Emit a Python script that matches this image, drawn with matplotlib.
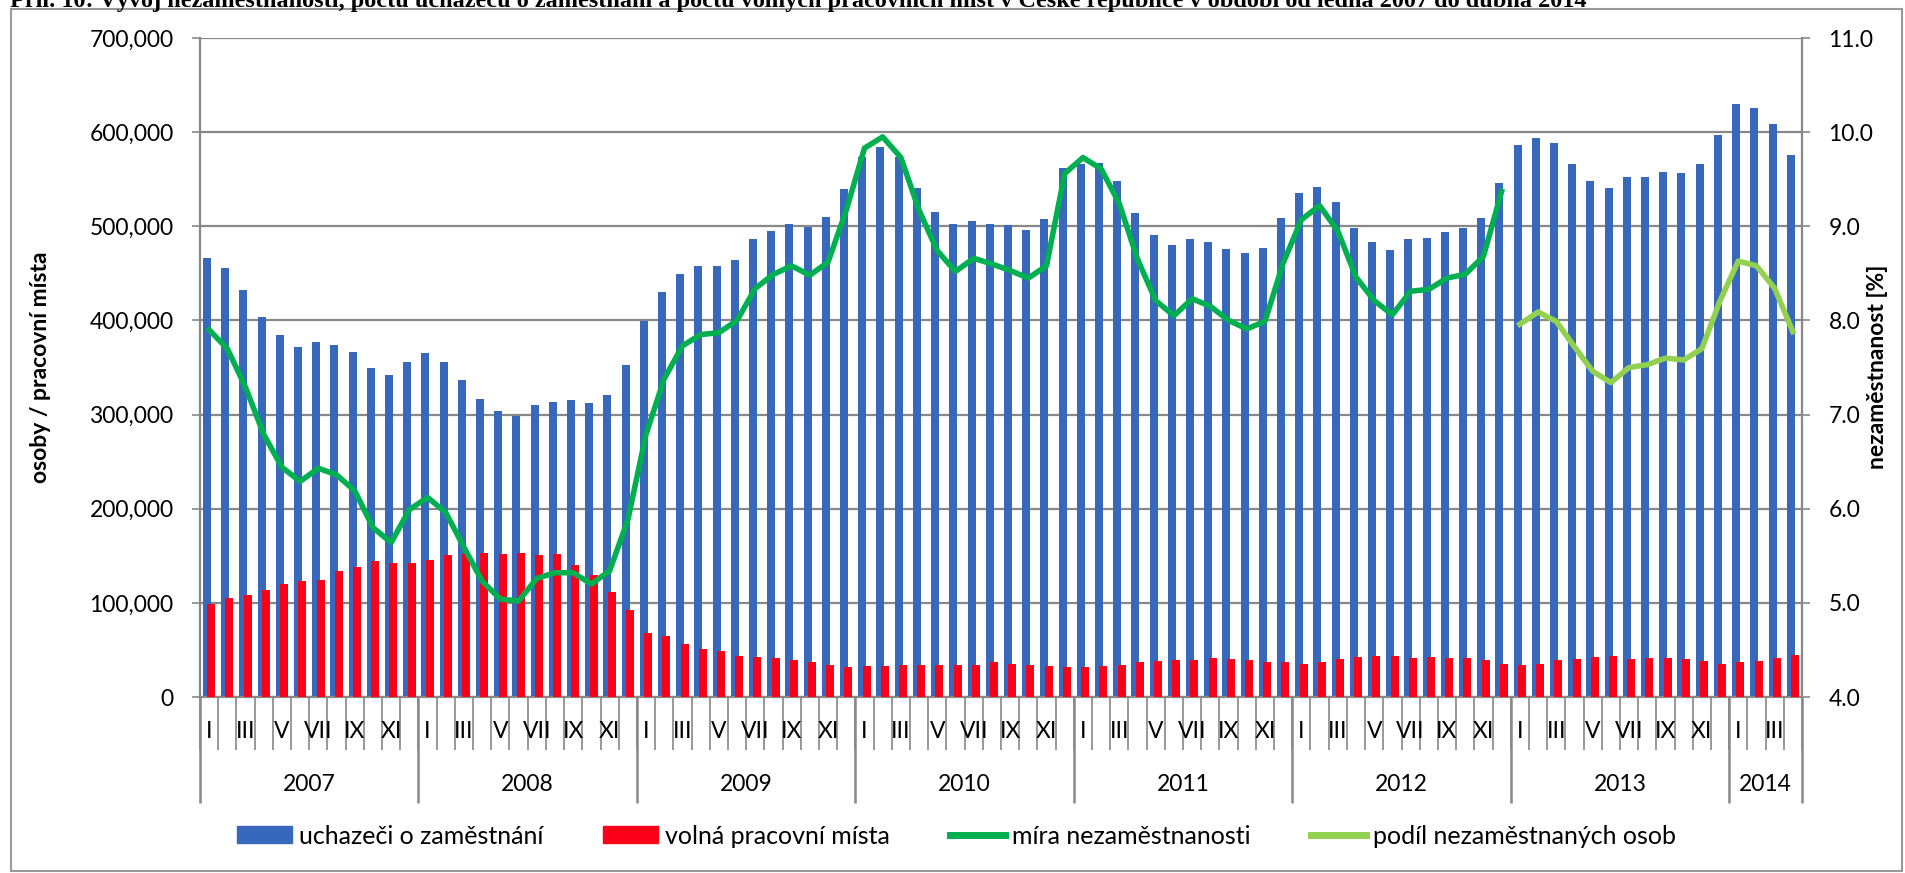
import numpy as np
import matplotlib.pyplot as plt
from matplotlib.patches import Rectangle, Patch
from matplotlib.lines import Line2D
from matplotlib.ticker import FuncFormatter, MultipleLocator

plt.rcParams['font.family'] = ['Lato', 'DejaVu Sans']

# values, Jan 2007 .. Apr 2014
years = ['2007', '2008', '2009', '2010', '2011', '2012', '2013', '2014']
months = ['I', 'II', 'III', 'IV', 'V', 'VI', 'VII', 'VIII', 'IX', 'X', 'XI', 'XII']

# uchazeci o zamestnani (thousands)
uchazeci = [466, 456, 432, 404, 384, 372, 377, 374, 366, 350, 342, 356,
            365, 356, 337, 317, 304, 299, 310, 313, 315, 312, 321, 353,
            399, 430, 449, 458, 458, 464, 486, 495, 502, 499, 510, 540,
            574, 584, 574, 541, 515, 502, 506, 502, 501, 496, 508, 562,
            566, 567, 548, 514, 491, 480, 486, 483, 476, 472, 477, 509,
            535, 542, 526, 498, 483, 475, 486, 488, 494, 498, 509, 546,
            586, 594, 588, 566, 548, 541, 552, 552, 558, 557, 566, 597,
            630, 626, 609, 576]

# volna pracovni mista (thousands)
volna = [98.5, 105, 108, 114, 120, 123.5, 124, 134, 138, 144, 142, 142,
         146, 151, 152, 152.5, 152, 152.5, 151, 152, 140, 130, 112, 92,
         68.5, 65, 56, 51, 49, 44, 42, 41.8, 39.5, 36.8, 33.6, 31.8,
         32.7, 33.1, 33.6, 33.6, 33.6, 33.6, 34, 37.2, 35.4, 34, 33.1, 31.8,
         31.8, 32.7, 34.5, 36.8, 38.1, 39, 39.5, 41.3, 40.4, 39, 37.2, 36.8,
         35, 37.2, 40.4, 42.2, 44, 43.1, 41.8, 42.7, 41.8, 40.9, 39.5, 35.4,
         34, 35.4, 39.5, 40.4, 42.7, 44, 40.4, 40.9, 41.8, 39.9, 38.1, 35.4,
         36.8, 38.6, 41.3, 44.9]

# mira nezamestnanosti [%], 2007-2012
mira = [7.90, 7.70, 7.29, 6.79, 6.44, 6.29, 6.43, 6.36, 6.19, 5.80, 5.64, 5.99,
        6.12, 5.96, 5.59, 5.23, 5.04, 5.02, 5.26, 5.32, 5.32, 5.20, 5.34, 5.88,
        6.79, 7.38, 7.73, 7.85, 7.87, 8.00, 8.34, 8.49, 8.58, 8.48, 8.62, 9.17,
        9.83, 9.95, 9.73, 9.17, 8.74, 8.52, 8.66, 8.60, 8.53, 8.45, 8.58, 9.56,
        9.73, 9.61, 9.24, 8.65, 8.21, 8.05, 8.23, 8.15, 8.00, 7.91, 7.99, 8.61,
        9.07, 9.22, 8.95, 8.46, 8.21, 8.06, 8.31, 8.33, 8.45, 8.49, 8.68, 9.37]

# podil nezamestnanych osob [%], 2013-2014
podil = [7.96, 8.09, 7.99, 7.72, 7.46, 7.34, 7.50, 7.53, 7.60, 7.58, 7.70, 8.21,
         8.63, 8.58, 8.34, 7.88]

n = len(uchazeci)
x = np.arange(n)
x_mira = np.arange(len(mira))
x_podil = np.arange(n - len(podil), n)

grey = '#888888'
blue = '#3868BC'
red = '#FA0019'
dgreen = '#00B050'
lgreen = '#92D050'

fig = plt.figure(figsize=(19.05, 8.73), dpi=100)
ax = fig.add_axes([200/1905, 1 - 697/873, 1602/1905, 659/873])
ax2 = ax.twinx()

ax.bar(x - 0.12, np.array(uchazeci) * 1000, width=0.44, color=blue, zorder=2)
ax.bar(x + 0.12, np.array(volna) * 1000, width=0.44, color=red, zorder=3)

ax2.plot(x_mira, mira, color=dgreen, lw=4, solid_joinstyle='round', zorder=4)
ax2.plot(x_podil, podil, color=lgreen, lw=4, solid_joinstyle='round', zorder=4)

ax.set_xlim(-0.5, n - 0.5)
ax.set_ylim(0, 700000)
ax2.set_ylim(4, 11)
ax.yaxis.set_major_locator(MultipleLocator(100000))
ax2.yaxis.set_major_locator(MultipleLocator(1))
ax.yaxis.set_major_formatter(FuncFormatter(lambda v, p: '{:,.0f}'.format(v)))
ax2.yaxis.set_major_formatter(FuncFormatter(lambda v, p: '{:.1f}'.format(v)))

ax.grid(axis='y', color=grey, lw=1.6, zorder=0)
ax.set_axisbelow(True)

for a in (ax, ax2):
    for s in a.spines.values():
        s.set_color(grey)
        s.set_linewidth(1.6)
    a.spines['top'].set_visible(False)
ax2.spines['left'].set_visible(False)
ax2.spines['bottom'].set_visible(False)
ax.spines['right'].set_visible(False)

ax.tick_params(axis='y', length=6, width=1.2, color=grey, pad=13, labelsize=16.5)
ax2.tick_params(axis='y', length=6, width=1.2, color=grey, pad=13, labelsize=16.5)

# month boundary ticks
ax.set_xticks(np.arange(-0.5, n, 1))
ax.tick_params(axis='x', length=38, width=1.2, color=grey, labelbottom=False)

# year boundaries reach lower
ybounds = [-0.5] + [12 * k - 0.5 for k in range(1, len(years))] + [n - 0.5]
ax.vlines(ybounds, -0.161, 0, transform=ax.get_xaxis_transform(),
          color=grey, lw=1.8, clip_on=False)

tr = ax.get_xaxis_transform()
for i in range(0, n, 2):
    ax.text(i, -0.053, months[i % 12], transform=tr, ha='center', va='center',
            fontsize=16.5)
for k, yr in enumerate(years):
    lo = ybounds[k]
    hi = ybounds[k + 1]
    ax.text((lo + hi) / 2, -0.1335, yr, transform=tr, ha='center', va='center',
            fontsize=16.5)

fig.text(41/1905, 1 - 367/873, 'osoby / pracovní místa', rotation=90,
         ha='center', va='center', fontsize=16.5, fontweight='bold')
fig.text(1878/1905, 1 - 367/873, 'nezaměstnanost [%]', rotation=90,
         ha='center', va='center', fontsize=16.5, fontweight='bold')

handles = [Patch(color=blue, label='uchazeči o zaměstnání'),
           Patch(color=red, label='volná pracovní místa'),
           Line2D([], [], color=dgreen, lw=5, label='míra nezaměstnanosti'),
           Line2D([], [], color=lgreen, lw=5, label='podíl nezaměstnaných osob')]
fig.legend(handles=handles, ncol=4, loc='center', bbox_to_anchor=(0.502, 1 - 836/873),
           frameon=False, fontsize=18, handlelength=2.2, handleheight=0.68,
           columnspacing=2.4, handletextpad=0.28)

# frame round the chart and the cut-off caption above it
fig.patches.append(Rectangle((11/1905, 2/873), 1891/1905, 862/873, transform=fig.transFigure,
                             fill=False, edgecolor='#999999', lw=1.5))
fig.text(10/1905, 1 - 7/873,
         'Příl. 10: Vývoj nezaměstnanosti, počtu uchazečů o zaměstnání a počtu volných '
         'pracovních míst v České republice v období od ledna 2007 do dubna 2014',
         ha='left', va='baseline', fontsize=17.5, fontweight='bold',
         family='Liberation Serif')

fig.savefig('out.png', dpi=100)
